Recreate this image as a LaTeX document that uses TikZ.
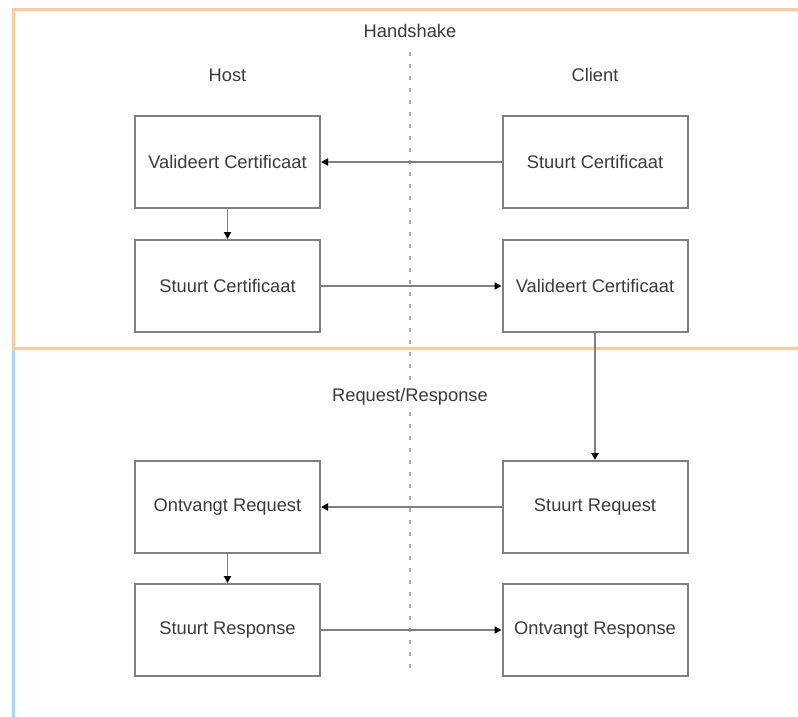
\documentclass[tikz,border=0pt]{standalone}
\usepackage{fontspec}
\setmainfont{Liberation Sans}
\usetikzlibrary{arrows.meta}
\definecolor{orangeline}{HTML}{FFCC99}
\definecolor{blueline}{HTML}{A9D3FF}
\definecolor{boxgray}{HTML}{808080}
\definecolor{txtgray}{HTML}{3A3A3A}
\begin{document}
\begin{tikzpicture}[x=1pt,y=-1pt,
  stepbox/.style={draw=boxgray,line width=2pt,minimum width=185pt,minimum height=92pt,inner sep=0pt,font=\fontsize{18.3}{22}\selectfont,text=txtgray},
  lbl/.style={font=\fontsize{18.3}{22}\selectfont,text=txtgray,inner sep=0pt},
  conn/.style={draw=boxgray,line width=1.8pt,-{Triangle[length=7pt,width=7pt,color=black]}}]
\useasboundingbox (0,0) rectangle (798,717);
% frames
\draw[orangeline,line width=3pt] (13.5,717) -- (13.5,9.5) -- (798,9.5);
\draw[orangeline,line width=3pt] (13.5,348.5) -- (798,348.5);
\draw[blueline,line width=3pt] (13.5,350) -- (13.5,717);
% dotted divider
\coordinate (dtop) at (410,52);
\coordinate (dbot) at (410,668);
\draw[boxgray!70,line width=2pt,dash pattern=on 4pt off 8pt] (dtop) -- (dbot);
% labels
\node[lbl] (hs) at (410,31) {Handshake};
\node[lbl] (host) at (227.5,75) {Host};
\node[lbl] (client) at (595,75) {Client};
\node[lbl,fill=white,inner sep=1pt] (rr) at (410,397) {Request/Response};
% boxes
\node[stepbox] (hv) at (227.5,162) {Valideert Certificaat};
\node[stepbox] (hs2) at (227.5,286) {Stuurt Certificaat};
\node[stepbox] (cs) at (595,162) {Stuurt Certificaat};
\node[stepbox] (cv) at (595,286) {Valideert Certificaat};
\node[stepbox] (hr) at (227.5,507) {Ontvangt Request};
\node[stepbox] (hsr) at (227.5,630) {Stuurt Response};
\node[stepbox] (csr) at (595,507) {Stuurt Request};
\node[stepbox] (cor) at (595,630) {Ontvangt Response};
% connectors
\draw[conn] (cs) -- (hv);
\draw[conn] (hv) -- (hs2);
\draw[conn] (hs2) -- (cv);
\draw[conn] (cv) -- (csr);
\draw[conn] (csr) -- (hr);
\draw[conn] (hr) -- (hsr);
\draw[conn] (hsr) -- (cor);
\end{tikzpicture}
\end{document}
